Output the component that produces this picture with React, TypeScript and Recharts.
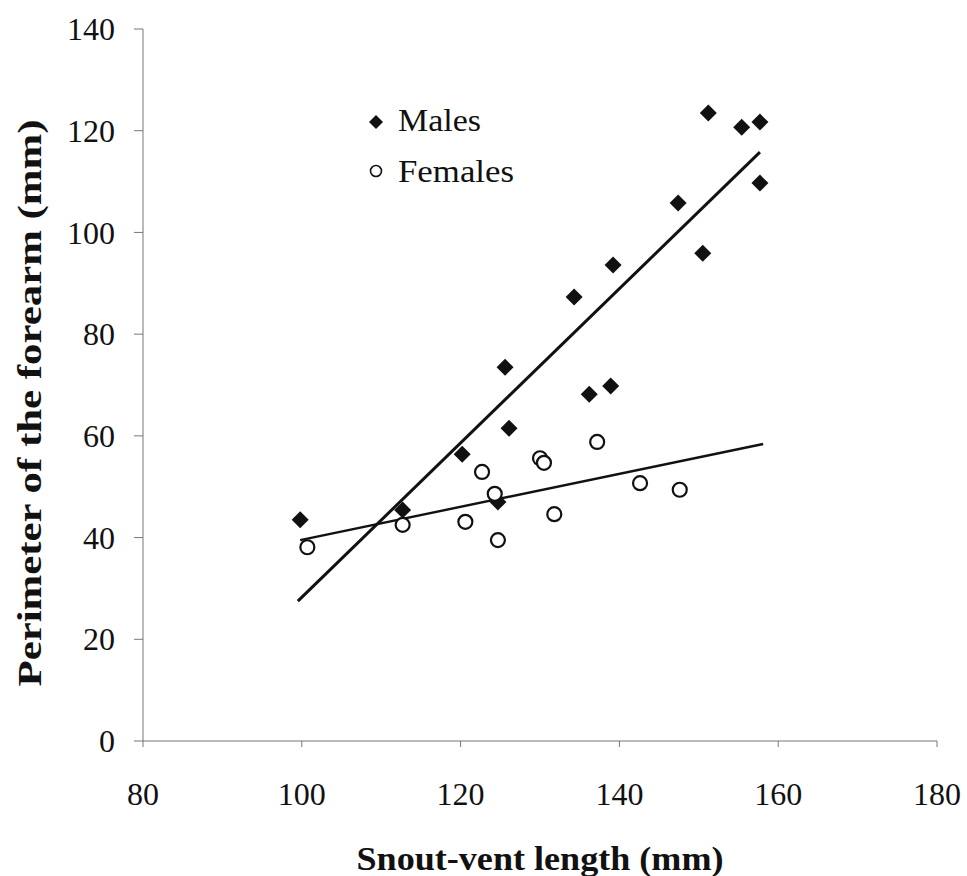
import {
  Label,
  Legend,
  Scatter,
  ScatterChart,
  XAxis,
  YAxis,
} from "recharts";

type Point = { x: number; y: number };

const xTicks = [80, 100, 120, 140, 160, 180];
const yTicks = [0, 20, 40, 60, 80, 100, 120, 140];

const males: Point[] = [
  { x: 99.8, y: 43.5 },
  { x: 112.7, y: 45.4 },
  { x: 120.2, y: 56.4 },
  { x: 124.7, y: 47.0 },
  { x: 125.6, y: 73.5 },
  { x: 126.1, y: 61.5 },
  { x: 134.3, y: 87.3 },
  { x: 136.2, y: 68.2 },
  { x: 138.9, y: 69.8 },
  { x: 139.2, y: 93.6 },
  { x: 147.4, y: 105.8 },
  { x: 150.5, y: 95.9 },
  { x: 151.2, y: 123.5 },
  { x: 155.4, y: 120.7 },
  { x: 157.7, y: 121.7 },
  { x: 157.7, y: 109.7 },
];

const females: Point[] = [
  { x: 100.7, y: 38.1 },
  { x: 112.7, y: 42.5 },
  { x: 120.6, y: 43.1 },
  { x: 122.7, y: 52.9 },
  { x: 124.3, y: 48.6 },
  { x: 124.7, y: 39.5 },
  { x: 130.0, y: 55.6 },
  { x: 130.5, y: 54.7 },
  { x: 131.8, y: 44.6 },
  { x: 137.2, y: 58.8 },
  { x: 142.6, y: 50.7 },
  { x: 147.6, y: 49.4 },
];

// regression line end points
const maleFit: Point[] = [
  { x: 99.5, y: 27.5 },
  { x: 157.7, y: 115.8 },
];

const femaleFit: Point[] = [
  { x: 99.8, y: 39.5 },
  { x: 158.1, y: 58.4 },
];

const font = "Liberation Serif";
const ink = "#111";
const axisColor = "#777";

const Diamond = ({ cx, cy }: { cx?: number; cy?: number }) => {
  if (cx == null || cy == null) return <g />;
  const r = 8.5;
  return (
    <polygon
      points={`${cx},${cy - r} ${cx + r},${cy} ${cx},${cy + r} ${cx - r},${cy}`}
      fill={ink}
    />
  );
};

const Ring = ({ cx, cy }: { cx?: number; cy?: number }) => {
  if (cx == null || cy == null) return <g />;
  return <circle cx={cx} cy={cy} r={7} fill="#fff" stroke={ink} strokeWidth={2.2} />;
};

const NoDot = () => <g />;

const XTick = (props: any) => {
  const { x, y, payload } = props;
  return (
    <text x={x} y={y} dy="0.71em" textAnchor="middle" fontFamily={font} fontSize={32} fill={ink}>
      {payload.value}
    </text>
  );
};

const YTick = (props: any) => {
  const { x, y, payload } = props;
  return (
    <text x={x} y={y} dy="0.35em" textAnchor="end" fontFamily={font} fontSize={32} fill={ink}>
      {payload.value}
    </text>
  );
};

const XTitle = (props: any) => {
  const { viewBox } = props;
  const cx = viewBox.x + viewBox.width / 2;
  return (
    <text
      x={cx}
      y={viewBox.y + 129}
      textAnchor="middle"
      fontFamily={font}
      fontWeight="bold"
      fontSize={33}
      fill={ink}
      textLength={367}
      lengthAdjust="spacingAndGlyphs"
    >
      Snout-vent length (mm)
    </text>
  );
};

const YTitle = (props: any) => {
  const { viewBox } = props;
  const cx = 41;
  const cy = viewBox.y + viewBox.height / 2 + 18;
  return (
    <text
      x={cx}
      y={cy}
      transform={`rotate(-90 ${cx} ${cy})`}
      textAnchor="middle"
      fontFamily={font}
      fontWeight="bold"
      fontSize={33}
      fill={ink}
      textLength={567}
      lengthAdjust="spacingAndGlyphs"
    >
      Perimeter of the forearm (mm)
    </text>
  );
};

function LegendBox() {
  return (
    <svg width={180} height={100}>
      <polygon points="16,15 23,22 16,29 9,22" fill={ink} />
      <text
        x={38}
        y={31}
        fontFamily={font}
        fontSize={31}
        fill={ink}
        textLength={83}
        lengthAdjust="spacingAndGlyphs"
      >
        Males
      </text>
      <circle cx={16} cy={71} r={5.5} fill="#fff" stroke={ink} strokeWidth={1.6} />
      <text
        x={38}
        y={82}
        fontFamily={font}
        fontSize={31}
        fill={ink}
        textLength={116}
        lengthAdjust="spacingAndGlyphs"
      >
        Females
      </text>
    </svg>
  );
}

export default function App() {
  return (
    <div style={{ position: "absolute", left: 0, top: 0, background: "#fff" }}>
      <ScatterChart
        width={967}
        height={876}
        margin={{ top: 29, right: 30, bottom: 0, left: 0 }}
      >
        <XAxis
          type="number"
          dataKey="x"
          domain={[80, 180]}
          ticks={xTicks}
          height={135}
          stroke={axisColor}
          tickSize={6}
          tickMargin={35}
          tick={XTick}
          allowDataOverflow
        >
          <Label content={XTitle} />
        </XAxis>
        <YAxis
          type="number"
          dataKey="y"
          domain={[0, 140]}
          ticks={yTicks}
          width={143}
          stroke={axisColor}
          tickSize={9}
          tickMargin={19}
          tick={YTick}
          allowDataOverflow
        >
          <Label content={YTitle} />
        </YAxis>
        <Legend
          layout="vertical"
          align="center"
          verticalAlign="middle"
          content={() => <LegendBox />}
          wrapperStyle={{ left: 360, top: 100, width: 180 }}
        />
        <Scatter
          name="Males fit"
          data={maleFit}
          line={{ stroke: ink, strokeWidth: 3 }}
          shape={NoDot}
          legendType="none"
          isAnimationActive={false}
        />
        <Scatter
          name="Females fit"
          data={femaleFit}
          line={{ stroke: ink, strokeWidth: 2.4 }}
          shape={NoDot}
          legendType="none"
          isAnimationActive={false}
        />
        <Scatter name="Males" data={males} shape={Diamond} isAnimationActive={false} />
        <Scatter name="Females" data={females} shape={Ring} isAnimationActive={false} />
      </ScatterChart>
    </div>
  );
}
